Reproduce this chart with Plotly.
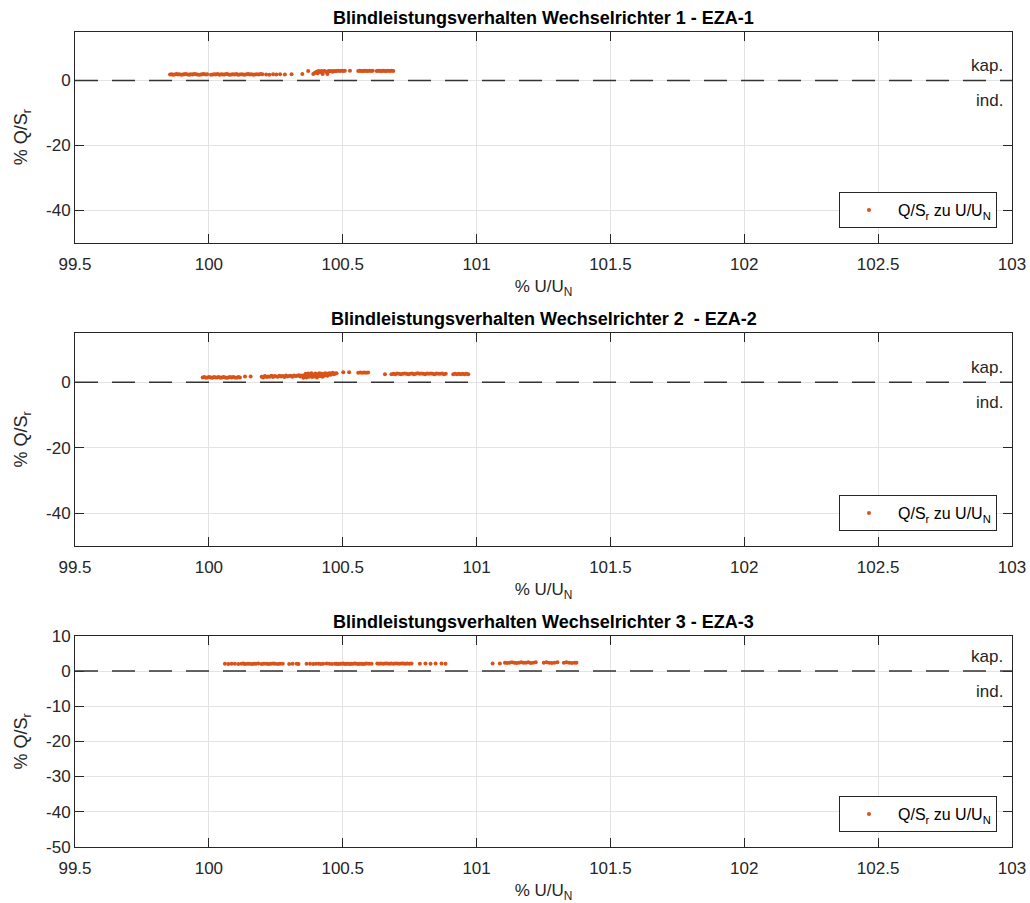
import plotly.graph_objects as go

# ---------------- data ----------------
titles = ["<b>Blindleistungsverhalten Wechselrichter 1 - EZA-1</b>",
          "<b>Blindleistungsverhalten Wechselrichter 2 \u00a0- EZA-2</b>",
          "<b>Blindleistungsverhalten Wechselrichter 3 - EZA-3</b>"]
series_name = "Q/S<sub>r</sub> zu U/U<sub>N</sub>"
x_label = "% U/U<sub>N</sub>"
y_label = "% Q/S<sub>r</sub>"

x_ticks = [99.5, 100, 100.5, 101, 101.5, 102, 102.5, 103]
x_ticklabels = ["99.5", "100", "100.5", "101", "101.5", "102", "102.5", "103"]
y_ticks_a = [-40, -20, 0]
y_ticklabels_a = ["-40", "-20", "0"]
y_ticks_b = [-50, -40, -30, -20, -10, 0, 10]
y_ticklabels_b = ["-50", "-40", "-30", "-20", "-10", "0", "10"]
x_range = [99.5, 103]
y_ranges = [[-50, 15], [-50, 15], [-50, 10]]
zero_level = 0

x1 = [99.855, 99.861, 99.866, 99.872, 99.879, 99.884, 99.890, 99.897, 99.903, 99.908,
      99.914, 99.921, 99.927, 99.932, 99.939, 99.945, 99.951, 99.956, 99.963, 99.970,
      99.976, 99.981, 99.988, 99.994, 100.008, 100.015, 100.021, 100.026, 100.033, 100.040,
      100.046, 100.052, 100.058, 100.065, 100.071, 100.077, 100.084, 100.090, 100.096, 100.103,
      100.109, 100.115, 100.122, 100.128, 100.134, 100.141, 100.147, 100.153, 100.160, 100.166,
      100.172, 100.179, 100.186, 100.193, 100.200, 100.214, 100.226, 100.240, 100.252, 100.266,
      100.284, 100.309,
      100.349, 100.371, 100.390, 100.395, 100.402, 100.406, 100.410, 100.415, 100.420, 100.425,
      100.428, 100.433, 100.438, 100.443, 100.447, 100.452, 100.457, 100.462, 100.467, 100.472,
      100.477, 100.483, 100.490, 100.496, 100.503, 100.508, 100.527, 100.558, 100.564, 100.570,
      100.576, 100.582, 100.588, 100.594, 100.600, 100.606, 100.612, 100.627, 100.633, 100.639,
      100.645, 100.651, 100.657, 100.663, 100.669, 100.676, 100.682, 100.689]
y1 = [1.8, 1.9, 1.7, 1.8, 2.0, 1.8, 1.9, 1.7, 1.8, 1.9,
      2.0, 1.8, 1.7, 1.9, 1.8, 2.0, 1.9, 1.8, 1.7, 1.8,
      1.9, 2.0, 1.8, 1.9, 1.7, 1.8, 1.9, 1.8, 2.0, 1.7,
      1.9, 1.8, 1.8, 2.0, 1.9, 1.7, 1.8, 1.9, 1.8, 2.0,
      1.7, 1.8, 1.9, 1.8, 1.7, 1.9, 2.0, 1.8, 1.9, 1.7,
      1.8, 1.9, 1.8, 2.0, 1.9, 1.8, 1.7, 1.9, 1.8, 1.9,
      1.8, 1.9,
      2.0, 2.9, 2.0, 2.3, 2.7, 2.2, 2.9, 2.5, 2.9, 2.0,
      2.8, 2.9, 2.6, 2.0, 2.9, 2.8, 2.9, 2.7, 2.9, 2.8,
      2.9, 3.0, 2.9, 3.0, 2.9, 3.0, 3.0, 2.9, 3.0, 2.9,
      2.9, 3.0, 2.9, 2.9, 3.0, 2.9, 3.0, 2.9, 3.0, 2.9,
      2.9, 3.0, 2.9, 2.9, 3.0, 2.9, 3.0, 2.9]

x2 = [99.977, 99.983, 99.989, 99.995, 100.001, 100.007, 100.013, 100.019, 100.025, 100.031,
      100.037, 100.043, 100.049, 100.055, 100.061, 100.067, 100.073, 100.079, 100.085, 100.091,
      100.097, 100.104, 100.110, 100.116, 100.135, 100.156,
      100.197, 100.203, 100.209, 100.216, 100.222, 100.228, 100.234, 100.240, 100.246, 100.252,
      100.258, 100.264, 100.270, 100.276, 100.282, 100.288, 100.294, 100.300, 100.306, 100.312,
      100.318, 100.324, 100.330, 100.336, 100.341, 100.346,
      100.353, 100.356, 100.359, 100.362, 100.365, 100.368, 100.371, 100.374, 100.377, 100.380,
      100.383, 100.386, 100.389, 100.392, 100.395, 100.398, 100.401, 100.404, 100.407, 100.410,
      100.413, 100.416, 100.419, 100.422, 100.425, 100.428, 100.431, 100.434, 100.437, 100.440,
      100.443, 100.446, 100.449, 100.452, 100.455, 100.459, 100.463, 100.467, 100.472, 100.477,
      100.502, 100.524, 100.558, 100.566, 100.574, 100.581, 100.588, 100.595, 100.658,
      100.682, 100.689, 100.696, 100.703, 100.710, 100.717, 100.724, 100.731, 100.738, 100.745,
      100.752, 100.759, 100.766, 100.773, 100.780, 100.787, 100.794, 100.801, 100.808, 100.815,
      100.822, 100.829, 100.836, 100.843, 100.850, 100.857, 100.864, 100.871, 100.878, 100.885,
      100.913, 100.920, 100.927, 100.934, 100.941, 100.948, 100.955, 100.962, 100.969]
y2 = [1.5, 1.6, 1.4, 1.5, 1.6, 1.5, 1.4, 1.6, 1.5, 1.5,
      1.6, 1.4, 1.5, 1.6, 1.5, 1.4, 1.5, 1.6, 1.5, 1.6,
      1.5, 1.4, 1.6, 1.5, 1.8, 1.8,
      1.7, 1.5, 1.9, 1.6, 1.8, 1.7, 2.0, 1.6, 1.9, 1.8,
      1.7, 2.0, 1.8, 1.9, 1.6, 2.1, 1.8, 1.9, 2.0, 1.7,
      2.1, 1.9, 2.0, 2.2, 1.8, 2.1,
      1.4, 2.2, 1.8, 2.6, 1.5, 2.0, 2.7, 1.7, 2.3, 1.9,
      2.8, 1.6, 2.4, 2.1, 1.8, 2.7, 2.2, 1.5, 2.5, 2.0,
      2.8, 1.9, 2.3, 2.6, 1.7, 2.4, 2.1, 2.8, 2.2, 2.6,
      2.0, 2.7, 2.4, 2.8, 2.3, 2.6, 2.9, 2.5, 2.7, 2.8,
      3.1, 3.1, 2.9, 3.0, 2.9, 3.0, 2.9, 3.0, 2.5,
      2.5, 2.6, 2.5, 2.7, 2.6, 2.5, 2.6, 2.7, 2.6, 2.5,
      2.6, 2.7, 2.5, 2.6, 2.8, 2.6, 2.7, 2.6, 2.5, 2.7,
      2.6, 2.7, 2.6, 2.5, 2.7, 2.6, 2.6, 2.7, 2.5, 2.6,
      2.5, 2.6, 2.5, 2.6, 2.5, 2.6, 2.5, 2.6, 2.5]

x3 = [100.060, 100.073, 100.085, 100.097, 100.110, 100.122, 100.129, 100.135, 100.144, 100.151,
      100.160, 100.168, 100.176, 100.185, 100.197, 100.206, 100.216, 100.224, 100.232, 100.241,
      100.247, 100.257, 100.266, 100.276, 100.300, 100.313, 100.328, 100.335, 100.365, 100.378,
      100.390, 100.400, 100.410, 100.419, 100.427, 100.440, 100.450, 100.460, 100.471, 100.477,
      100.483, 100.490, 100.496, 100.502, 100.508, 100.514, 100.521, 100.527, 100.533, 100.539,
      100.546, 100.552, 100.558, 100.564, 100.570, 100.577, 100.583, 100.589, 100.598, 100.608,
      100.629, 100.636, 100.644, 100.651, 100.659, 100.666, 100.674, 100.681, 100.689, 100.696,
      100.704, 100.711, 100.719, 100.726, 100.734, 100.741, 100.749, 100.757, 100.788, 100.809,
      100.828, 100.847, 100.869, 100.884,
      101.060, 101.087, 101.106, 101.114, 101.123, 101.132, 101.141, 101.149, 101.158, 101.167,
      101.175, 101.184, 101.193, 101.202, 101.211, 101.221, 101.251, 101.261, 101.271, 101.281,
      101.291, 101.302, 101.326, 101.336, 101.346, 101.356, 101.366, 101.373]
y3 = [2.1, 2.0, 2.1, 2.1, 2.0, 2.1, 2.2, 2.0, 2.1, 2.1,
      2.0, 2.1, 2.1, 2.2, 2.0, 2.1, 2.1, 2.0, 2.1, 2.2,
      2.1, 2.0, 2.1, 2.1, 2.0, 2.1, 2.1, 2.0, 2.1, 2.1,
      2.0, 2.1, 2.1, 2.0, 2.1, 2.2, 2.1, 2.0, 2.1, 2.1,
      2.0, 2.1, 2.1, 2.2, 2.0, 2.1, 2.1, 2.0, 2.1, 2.1,
      2.2, 2.1, 2.0, 2.1, 2.1, 2.0, 2.1, 2.2, 2.1, 2.1,
      2.2, 2.1, 2.2, 2.1, 2.2, 2.2, 2.1, 2.2, 2.1, 2.2,
      2.2, 2.1, 2.2, 2.2, 2.1, 2.2, 2.1, 2.2, 2.1, 2.2,
      2.1, 2.2, 2.2, 2.1,
      2.2, 2.2, 2.4, 2.3, 2.4, 2.5, 2.4, 2.3, 2.4, 2.5,
      2.4, 2.4, 2.5, 2.3, 2.4, 2.5, 2.4, 2.5, 2.4, 2.3,
      2.4, 2.5, 2.4, 2.5, 2.4, 2.3, 2.4, 2.4]

assert len(x1) == len(y1) and len(x2) == len(y2) and len(x3) == len(y3)

xs = [x1, x2, x3]
ys = [y1, y2, y3]

# ---------------- layout ----------------
W, H = 1030, 903
FONT = "Liberation Sans, Arial, Helvetica, sans-serif"
TXT = "#262626"
ORANGE = "#D95319"
x_dom = [75 / W, 1012 / W]
# (top px, bottom px) of each axes box
boxes = [(31.7, 242.7), (333.3, 545.7), (636.0, 846.7)]

fig = go.Figure()
layout = dict(
    width=W, height=H,
    margin=dict(l=0, r=0, t=0, b=0),
    paper_bgcolor="white", plot_bgcolor="white",
    font=dict(family=FONT, color=TXT, size=16),
    showlegend=True,
)
annotations = []
shapes = []

for i in range(3):
    n = "" if i == 0 else str(i + 1)
    top, bot = boxes[i]
    y_dom = [(H - bot) / H, (H - top) / H]
    yt = y_ticks_a if i < 2 else y_ticks_b
    ytl = y_ticklabels_a if i < 2 else y_ticklabels_b
    axis_common = dict(
        showline=True, linecolor=TXT, linewidth=1, mirror="ticks",
        ticks="inside", ticklen=9, tickwidth=1, tickcolor=TXT,
        showgrid=True, gridcolor="#e3e3e3", gridwidth=1,
        zeroline=False, tickfont=dict(size=17, color=TXT, family=FONT),
        automargin=False,
    )
    layout["xaxis" + n] = dict(
        axis_common, domain=x_dom, range=x_range, anchor="y" + n,
        tickmode="array", tickvals=x_ticks, ticktext=x_ticklabels,
        ticklabelstandoff=6,
        title=dict(text=x_label, font=dict(size=17, color=TXT), standoff=7),
    )
    layout["yaxis" + n] = dict(
        axis_common, domain=y_dom, range=y_ranges[i], anchor="x" + n,
        tickmode="array", tickvals=yt, ticktext=ytl,
        title=dict(text=y_label, font=dict(size=18, color=TXT), standoff=13),
    )
    leg = "legend" if i == 0 else "legend" + str(i + 1)
    layout[leg] = dict(
        x=997 / W, y=(H - (bot - 14.5)) / H, xanchor="right", yanchor="bottom",
        xref="paper", yref="paper",
        bgcolor="white", bordercolor=TXT, borderwidth=1,
        font=dict(size=16, color="black", family=FONT),
        itemwidth=48,
    )
    fig.add_trace(go.Scatter(
        x=xs[i], y=ys[i], mode="markers", name=series_name,
        marker=dict(color=ORANGE, size=4, line=dict(width=0)),
        xaxis="x" + n, yaxis="y" + n, legend=leg, showlegend=True,
    ))
    shapes.append(dict(
        type="line", xref="x" + n + " domain", yref="y" + n,
        x0=0, x1=1, y0=zero_level, y1=zero_level,
        line=dict(color="#333333", width=1.5, dash="23px,14px"), layer="above",
    ))
    annotations.append(dict(
        text=titles[i], xref="paper", yref="paper",
        x=(x_dom[0] + x_dom[1]) / 2, y=y_dom[1], xanchor="center", yanchor="bottom",
        yshift=2, showarrow=False, font=dict(size=18, color="black", family=FONT),
    ))
    annotations.append(dict(
        text="kap.", xref="x" + n + " domain", yref="y" + n, x=1, y=zero_level,
        xanchor="right", yanchor="middle", xshift=-7, yshift=15, showarrow=False,
        font=dict(size=17, color=TXT, family=FONT),
    ))
    annotations.append(dict(
        text="ind.", xref="x" + n + " domain", yref="y" + n, x=1, y=zero_level,
        xanchor="right", yanchor="middle", xshift=-7, yshift=-20, showarrow=False,
        font=dict(size=17, color=TXT, family=FONT),
    ))

layout["annotations"] = annotations
layout["shapes"] = shapes
fig.update_layout(**layout)
fig.write_html("out.html")
